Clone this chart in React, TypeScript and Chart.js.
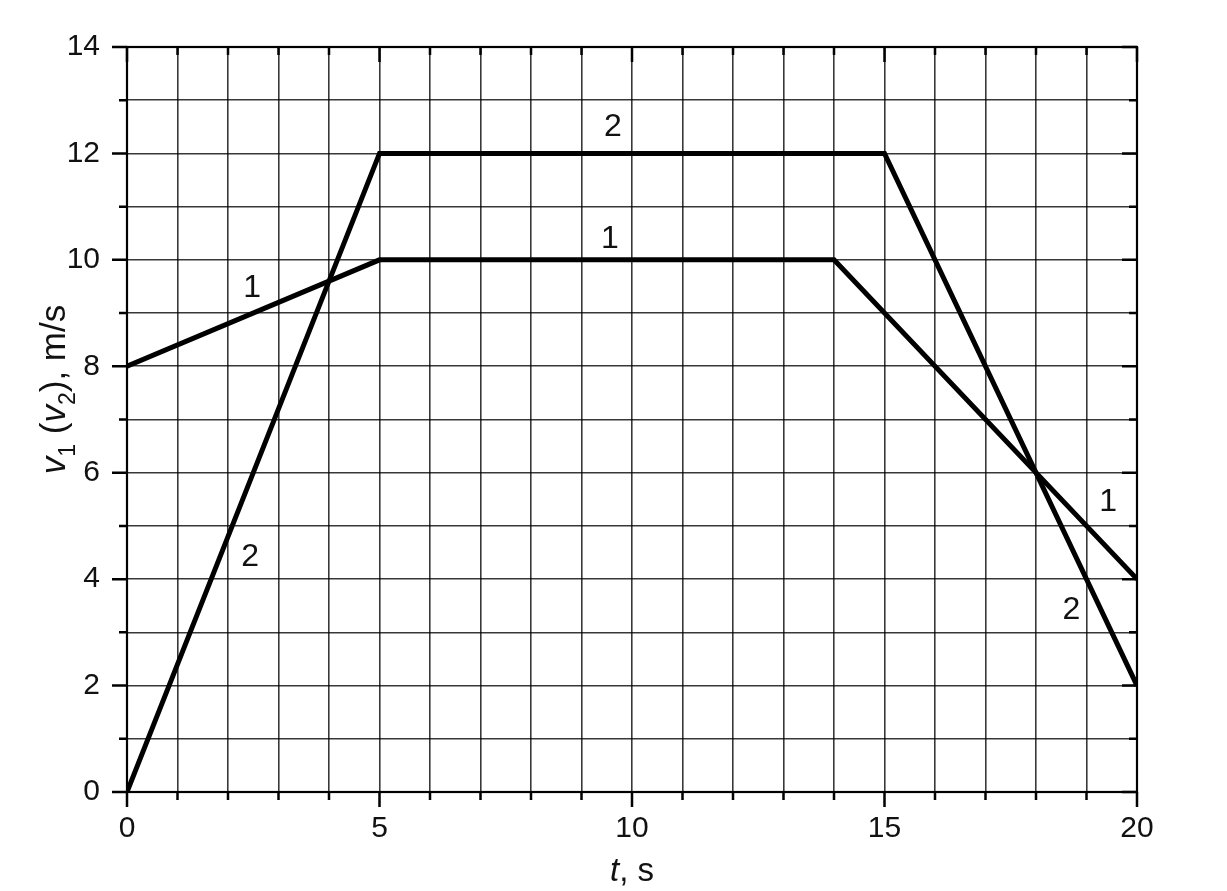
import { useEffect, useRef } from 'react';
import { Chart, registerables } from 'chart.js';

Chart.register(...registerables);

// curve 1
const t1 = [0, 5, 14, 20];
const v1 = [8, 10, 10, 4];
// curve 2
const t2 = [0, 5, 15, 20];
const v2 = [0, 12, 12, 2];

// curve number labels placed next to the lines (data units)
const labelText = ['1', '2', '1', '2', '1', '2'];
const labelT = [2.48, 2.44, 9.56, 9.62, 19.43, 18.7];
const labelV = [9.47, 4.42, 10.38, 12.5, 5.45, 3.42];

const FONT = 'Arial, "Liberation Sans", sans-serif';

type Seg = { text: string; italic?: boolean; sub?: boolean };

const yTitle: Seg[] = [
  { text: 'v', italic: true },
  { text: '1', sub: true },
  { text: ' (' },
  { text: 'v', italic: true },
  { text: '2', sub: true },
  { text: '), m/s' },
];
const xTitle: Seg[] = [{ text: 't', italic: true }, { text: ', s' }];

function drawRich(ctx: CanvasRenderingContext2D, segs: Seg[], size: number) {
  const fontFor = (s: Seg) =>
    `${s.italic ? 'italic ' : ''}${s.sub ? Math.round(size * 0.65) : size}px ${FONT}`;
  let total = 0;
  for (const s of segs) {
    ctx.font = fontFor(s);
    total += ctx.measureText(s.text).width;
  }
  let x = -total / 2;
  ctx.textAlign = 'left';
  ctx.textBaseline = 'alphabetic';
  for (const s of segs) {
    ctx.font = fontFor(s);
    ctx.fillText(s.text, x, size * 0.36 + (s.sub ? size * 0.3 : 0));
    x += ctx.measureText(s.text).width;
  }
}

const decor = {
  id: 'decor',
  afterDraw(chart: any) {
    const { ctx, chartArea, scales } = chart;
    const { left, right, top, bottom } = chartArea;
    const xs = scales.x;
    const ys = scales.y;
    ctx.save();
    ctx.strokeStyle = '#000';
    ctx.lineWidth = 2.2;
    ctx.strokeRect(left, top, right - left, bottom - top);

    ctx.lineWidth = 2.5;
    ctx.beginPath();
    for (const tk of xs.ticks) {
      const px = xs.getPixelForValue(tk.value);
      const len = tk.value % 5 === 0 ? 15 : 8;
      ctx.moveTo(px, bottom);
      ctx.lineTo(px, bottom + len);
      ctx.moveTo(px, top);
      ctx.lineTo(px, top + len);
    }
    for (const tk of ys.ticks) {
      const py = ys.getPixelForValue(tk.value);
      const len = tk.value % 2 === 0 ? 15 : 8;
      ctx.moveTo(left, py);
      ctx.lineTo(left - len, py);
      ctx.moveTo(right, py);
      ctx.lineTo(right - len, py);
    }
    ctx.stroke();

    // curve labels
    ctx.fillStyle = '#111';
    ctx.font = `32px ${FONT}`;
    ctx.textAlign = 'center';
    ctx.textBaseline = 'middle';
    labelText.forEach((txt, i) => {
      ctx.fillText(txt, xs.getPixelForValue(labelT[i]), ys.getPixelForValue(labelV[i]));
    });

    // axis titles
    ctx.save();
    ctx.translate((left + right) / 2, 869);
    drawRich(ctx, xTitle, 33);
    ctx.restore();

    ctx.save();
    ctx.translate(52, (top + bottom) / 2 - 30);
    ctx.rotate(-Math.PI / 2);
    drawRich(ctx, yTitle, 35);
    ctx.restore();

    ctx.restore();
  },
};

export default function App() {
  const canvasRef = useRef<HTMLCanvasElement | null>(null);

  useEffect(() => {
    document.body.style.margin = '0';
    const canvas = canvasRef.current;
    if (!canvas) return;

    const lineStyle = {
      showLine: true,
      borderColor: '#000',
      backgroundColor: '#000',
      borderWidth: 5,
      pointRadius: 0,
      fill: false,
    };

    const chart = new Chart(canvas, {
      type: 'scatter',
      data: {
        datasets: [
          { label: '1', data: t1.map((t, i) => ({ x: t, y: v1[i] })), ...lineStyle },
          { label: '2', data: t2.map((t, i) => ({ x: t, y: v2[i] })), ...lineStyle },
        ],
      },
      options: {
        responsive: false,
        animation: false,
        layout: { padding: { left: 0, top: 47, right: 90, bottom: 0 } },
        plugins: { legend: { display: false }, tooltip: { enabled: false } },
        scales: {
          x: {
            type: 'linear',
            min: 0,
            max: 20,
            afterFit: (s: any) => {
              s.height = 99;
            },
            grid: { color: 'rgba(0,0,0,0.78)', lineWidth: 1.6, drawTicks: false },
            border: { display: false },
            ticks: {
              stepSize: 1,
              autoSkip: false,
              maxRotation: 0,
              padding: 19,
              color: '#111',
              font: { family: FONT, size: 30 },
              callback: (v: any) => (Number(v) % 5 === 0 ? String(v) : ''),
            },
          },
          y: {
            type: 'linear',
            min: 0,
            max: 14,
            afterFit: (s: any) => {
              s.width = 127;
            },
            grid: { color: 'rgba(0,0,0,0.78)', lineWidth: 1.6, drawTicks: false },
            border: { display: false },
            ticks: {
              stepSize: 1,
              autoSkip: false,
              padding: 27,
              color: '#111',
              font: { family: FONT, size: 30 },
              callback: (v: any) => (Number(v) % 2 === 0 ? String(v) : ''),
            },
          },
        },
      },
      plugins: [decor],
    });

    return () => chart.destroy();
  }, []);

  return (
    <div style={{ width: 1227, height: 891, background: '#fff' }}>
      <canvas ref={canvasRef} width={1227} height={891} style={{ display: 'block' }} />
    </div>
  );
}
